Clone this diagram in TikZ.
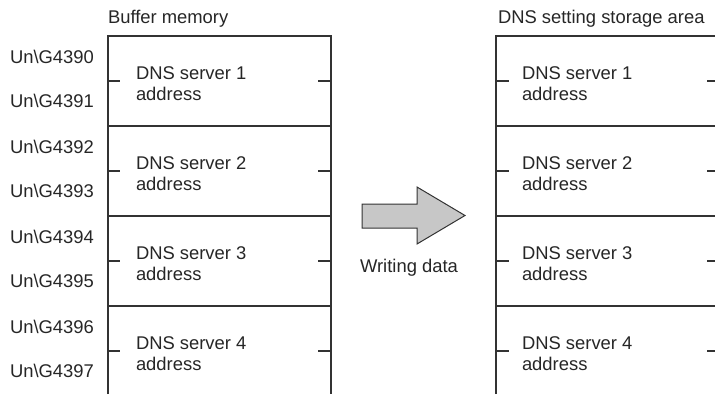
\documentclass[tikz,border=0pt]{standalone}
\usepackage{fontspec}
\setmainfont{Liberation Sans}
\tikzset{
  every node/.style={inner sep=0pt, outer sep=0pt, font=\fontsize{18.4}{21}\selectfont, text=black!85},
  frame/.style={draw=black!80, line width=1.1pt},
  tick/.style={draw=black!80, line width=1.1pt},
  cell/.style={anchor=base west, align=left},
  addr/.style={anchor=base west},
  bigarrow/.style={draw=black!80, line width=1pt, fill=black!22, line join=miter},
}
\begin{document}
\begin{tikzpicture}[x=1pt,y=-1pt]
\useasboundingbox (0,0) rectangle (715,394);
% headings
\node[anchor=base west] (h1) at (108,23) {Buffer memory};
\node[anchor=base west] (h2) at (498,23) {DNS setting storage area};
% left frame
\coordinate (L0) at (108,36);
\coordinate (R0) at (331,36);
\coordinate (Lb) at (108,394);
\coordinate (Rb) at (331,394);
\draw[frame] (Lb) -- (L0) -- (R0) -- (Rb);
% right frame
\coordinate (RL0) at (496,36);
\coordinate (RR0) at (715,36);
\coordinate (RLb) at (496,394);
\draw[frame] (RLb) -- (RL0) -- (RR0);
\foreach \i/\n in {1/1,2/2,3/3,4/4}{
  \pgfmathsetmacro{\top}{36+90*(\i-1)}
  \pgfmathsetmacro{\mid}{\top+45}
  \ifnum\i>1
    \draw[frame] (108,\top) -- (331,\top);
    \draw[frame] (496,\top) -- (715,\top);
  \fi
  \draw[tick] (108,\mid) -- (120,\mid);
  \draw[tick] (318,\mid) -- (331,\mid);
  \draw[tick] (496,\mid) -- (509,\mid);
  \draw[tick] (707,\mid) -- (715,\mid);
  \node[cell] (bl\i) at (136,\top+64.5) {DNS server \n\\address};
  \node[cell] (br\i) at (522,\top+64.5) {DNS server \n\\address};
}
% address labels
\node[addr] (a0) at (10,63) {Un\textbackslash G4390};
\node[addr] (a1) at (10,107) {Un\textbackslash G4391};
\node[addr] (a2) at (10,153) {Un\textbackslash G4392};
\node[addr] (a3) at (10,197) {Un\textbackslash G4393};
\node[addr] (a4) at (10,243) {Un\textbackslash G4394};
\node[addr] (a5) at (10,287) {Un\textbackslash G4395};
\node[addr] (a6) at (10,333) {Un\textbackslash G4396};
\node[addr] (a7) at (10,377) {Un\textbackslash G4397};
% arrow
\draw[bigarrow] (362,204) -- (417,204) -- (417,187) -- (465,215.5) -- (417,244) -- (417,228) -- (362,228) -- cycle;
\node[anchor=base] (wd) at (409,272) {Writing data};
\end{tikzpicture}
\end{document}
